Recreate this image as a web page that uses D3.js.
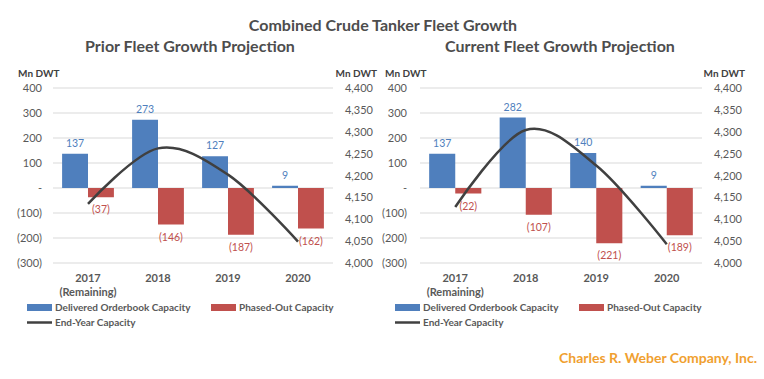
<!DOCTYPE html>
<html>
<head>
<meta charset="utf-8">
<script src="https://cdn.jsdelivr.net/npm/d3@7"></script>
<style>
  body { margin: 0; background: #fff; }
  svg { font-family: Lato, "Open Sans", sans-serif; }
</style>
</head>
<body>
<svg id="chart" width="764" height="379"></svg>
<script>
// values
var years = ["2017", "2018", "2019", "2020"]
var yearSub = ["(Remaining)", "", "", ""]
var priorDelivered = [137, 273, 127, 9]
var priorPhasedOut = [-37, -146, -187, -162]
var priorEndYear = [4135, 4262, 4202, 4049]
var currentDelivered = [137, 282, 140, 9]
var currentPhasedOut = [-22, -107, -221, -189]
var currentEndYear = [4128, 4304, 4223, 4043]
var leftTicks = [400, 300, 200, 100, 0, -100, -200, -300]
var rightTicks = [4400, 4350, 4300, 4250, 4200, 4150, 4100, 4050, 4000]

var blue = "#4f7fbd", red = "#c0504d", lineCol = "#404040", txt = "#595959"

var svg = d3.select("#chart")

svg.append("text")
  .attr("x", 383).attr("y", 31)
  .attr("text-anchor", "middle")
  .attr("font-size", 16).attr("font-weight", "bold")
  .attr("fill", "#4d4d4d")
  .text("Combined Crude Tanker Fleet Growth")

svg.append("text")
  .attr("x", 757).attr("y", 363)
  .attr("text-anchor", "end")
  .attr("font-size", 14).attr("font-weight", "bold")
  .attr("fill", "#f0a030")
  .text("Charles R. Weber Company, Inc.")

function negFmt(v){
  if (v == 0) return "-"
  if (v < 0) return "(" + d3.format(",")(-v) + ")"
  return d3.format(",")(v)
}

function drawPanel(o){
  var g = svg.append("g")

  g.append("text")
    .attr("x", o.titleX).attr("y", 52)
    .attr("text-anchor", "middle")
    .attr("font-size", 16).attr("font-weight", "bold")
    .attr("fill", "#4d4d4d")
    .text(o.title)

  var x = d3.scaleBand().domain(years).range([o.x0, o.x1]).paddingInner(0).paddingOuter(0)
  var y = d3.scaleLinear().domain([-300, 400]).range([263, 88])
  var y2 = d3.scaleLinear().domain([4000, 4400]).range([263, 88])
  var bw = x.bandwidth() * 0.37

  // gridlines
  g.selectAll(".grid").data(leftTicks).enter().append("line")
    .attr("x1", o.x0).attr("x2", o.x1)
    .attr("y1", function(d){ return y(d) }).attr("y2", function(d){ return y(d) })
    .attr("stroke", "#d9d9d9").attr("stroke-width", 1)

  // left axis
  var la = g.append("g").attr("transform", "translate(" + o.leftLabX + ",0)")
    .call(d3.axisLeft(y).tickValues(leftTicks).tickFormat(negFmt).tickSize(0).tickPadding(0))
  la.select(".domain").remove()
  la.selectAll("text").attr("font-size", 11).attr("fill", txt).attr("font-family", "Lato, sans-serif")

  // right axis
  var ra = g.append("g").attr("transform", "translate(" + o.rightLabX + ",0)")
    .call(d3.axisLeft(y2).tickValues(rightTicks).tickFormat(d3.format(",")).tickSize(0).tickPadding(0))
  ra.select(".domain").remove()
  ra.selectAll("text").attr("font-size", 11).attr("fill", txt).attr("font-family", "Lato, sans-serif")

  g.append("text").attr("x", o.leftUnitX).attr("y", 77)
    .attr("font-size", 10).attr("font-weight", "bold").attr("fill", "#404040")
    .text("Mn DWT")
  g.append("text").attr("x", o.rightUnitX).attr("y", 77)
    .attr("text-anchor", "end")
    .attr("font-size", 10).attr("font-weight", "bold").attr("fill", "#404040")
    .text("Mn DWT")

  var cx = function(i){ return x(years[i]) + x.bandwidth() / 2 }

  // bars
  g.selectAll(".blue").data(o.delivered).enter().append("rect")
    .attr("x", function(d, i){ return cx(i) - bw })
    .attr("width", bw)
    .attr("y", function(d){ return y(Math.max(d, 0)) })
    .attr("height", function(d){ return Math.abs(y(d) - y(0)) })
    .attr("fill", blue)
  g.selectAll(".red").data(o.phased).enter().append("rect")
    .attr("x", function(d, i){ return cx(i) })
    .attr("width", bw)
    .attr("y", function(d){ return y(Math.max(d, 0)) })
    .attr("height", function(d){ return Math.abs(y(d) - y(0)) })
    .attr("fill", red)

  // line
  var line = d3.line()
    .x(function(d, i){ return cx(i) })
    .y(function(d){ return y2(d) })
    .curve(d3.curveCardinal.tension(0))
  g.append("path").datum(o.endYear)
    .attr("d", line)
    .attr("fill", "none").attr("stroke", lineCol).attr("stroke-width", 2.5)

  // data labels
  g.selectAll(".bl").data(o.delivered).enter().append("text")
    .attr("x", function(d, i){ return cx(i) - bw / 2 })
    .attr("y", function(d){ return y(d) - 7 })
    .attr("text-anchor", "middle").attr("font-size", 10.5).attr("fill", blue)
    .text(function(d){ return d })
  g.selectAll(".rl").data(o.phased).enter().append("text")
    .attr("x", function(d, i){ return cx(i) + bw / 2 })
    .attr("y", function(d){ return y(d) + 16 })
    .attr("text-anchor", "middle").attr("font-size", 10.5).attr("fill", red)
    .text(negFmt)

  // category labels
  g.selectAll(".cat").data(years).enter().append("text")
    .attr("x", function(d, i){ return cx(i) }).attr("y", 282)
    .attr("text-anchor", "middle").attr("font-size", 11).attr("font-weight", "bold").attr("fill", txt)
    .text(function(d){ return d })
  g.selectAll(".sub").data(yearSub).enter().append("text")
    .attr("x", function(d, i){ return cx(i) }).attr("y", 296)
    .attr("text-anchor", "middle").attr("font-size", 11).attr("font-weight", "bold").attr("fill", txt)
    .text(function(d){ return d })

  // legend
  var lg = g.append("g").attr("transform", "translate(" + o.legX + ",0)")
  lg.append("rect").attr("x", 0).attr("y", 304).attr("width", 25).attr("height", 7).attr("fill", blue)
  lg.append("text").attr("x", 28).attr("y", 311).attr("font-size", 10).attr("font-weight", "bold").attr("fill", txt)
    .text("Delivered Orderbook Capacity")
  lg.append("rect").attr("x", o.legRedOff).attr("y", 304).attr("width", 25).attr("height", 7).attr("fill", red)
  lg.append("text").attr("x", o.legRedOff + 28).attr("y", 311).attr("font-size", 10).attr("font-weight", "bold").attr("fill", txt)
    .text("Phased-Out Capacity")
  lg.append("line").attr("x1", 0).attr("x2", 25).attr("y1", 322.5).attr("y2", 322.5)
    .attr("stroke", lineCol).attr("stroke-width", 2.5)
  lg.append("text").attr("x", 28).attr("y", 326).attr("font-size", 10).attr("font-weight", "bold").attr("fill", txt)
    .text("End-Year Capacity")
}

drawPanel({
  title: "Prior Fleet Growth Projection", titleX: 190,
  x0: 53, x1: 333, leftLabX: 42, rightLabX: 373,
  leftUnitX: 18, rightUnitX: 377,
  delivered: priorDelivered, phased: priorPhasedOut, endYear: priorEndYear,
  legX: 27, legRedOff: 184
})
drawPanel({
  title: "Current Fleet Growth Projection", titleX: 560,
  x0: 420, x1: 702, leftLabX: 407, rightLabX: 742,
  leftUnitX: 385, rightUnitX: 745,
  delivered: currentDelivered, phased: currentPhasedOut, endYear: currentEndYear,
  legX: 395, legRedOff: 184
})
</script>
</body>
</html>
